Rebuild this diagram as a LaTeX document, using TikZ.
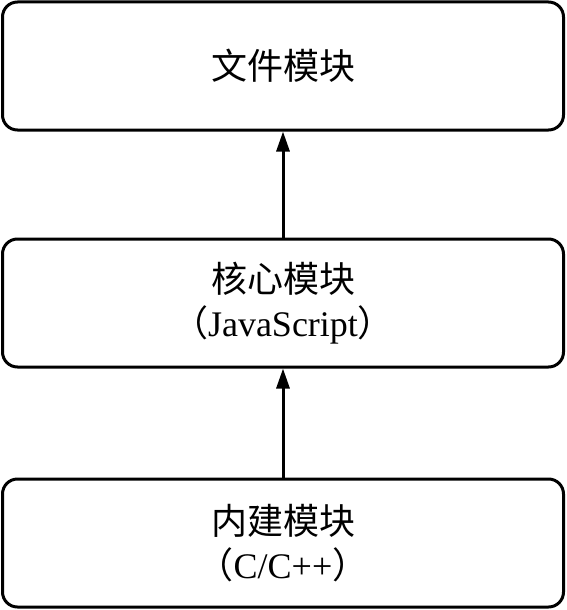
\documentclass[tikz,border=0pt]{standalone}
\usepackage{fontspec}
\setmainfont{Liberation Serif}
\newfontfamily\cjk{Noto Sans CJK SC}
\usetikzlibrary{arrows.meta}
\begin{document}
\begin{tikzpicture}[x=1pt,y=-1pt,
  modbox/.style={draw=black,line width=3pt,rounded corners=15pt,minimum width=561pt,minimum height=128pt,inner sep=0pt,align=center,font=\fontsize{36}{44}\selectfont},
  conn/.style={line width=3pt,-{Triangle[length=20pt,width=13pt]}}]
\useasboundingbox (0,0) rectangle (566,610);
\node[modbox] (file) at (283,66) {{\cjk 文件模块}};
\node[modbox] (core) at (283,303) {{\cjk 核心模块}\\{\cjk （}JavaScript{\cjk ）}};
\node[modbox] (builtin) at (283,543) {{\cjk 内建模块}\\{\cjk （}C/C++{\cjk ）}};
\draw[conn] (builtin.north) -- (core.south);
\draw[conn] (core.north) -- (file.south);
\end{tikzpicture}
\end{document}
